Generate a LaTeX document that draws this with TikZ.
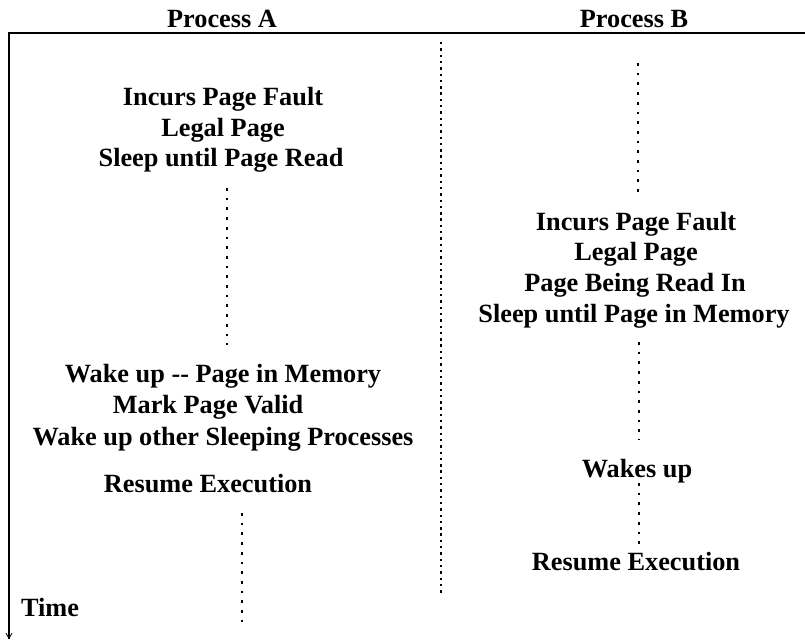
\documentclass[tikz,border=0pt]{standalone}
\usepackage{fontspec}
\setmainfont{Liberation Serif}
\usetikzlibrary{arrows.meta}
\begin{document}
\begin{tikzpicture}[x=1pt,y=-1pt,
  lbl/.style={anchor=base,inner sep=0pt,font=\fontsize{26.3}{30}\selectfont\bfseries},
  dots/.style={line width=2.7pt,dash pattern=on 2.7pt off 7pt},
  densedots/.style={line width=2.4pt,dash pattern=on 2.4pt off 3.9pt},
  axis/.style={line width=2.2pt}]
\useasboundingbox (0,0) rectangle (805,641);
% header
\node[lbl] (pa) at (222,27) {Process A};
\node[lbl] (pb) at (634,27) {Process B};
\coordinate (hl) at (9,33);
\coordinate (hr) at (805,33);
\coordinate (vb) at (9,639);
\draw[axis] (hr) -- (hl) -- (vb);
\draw[line width=0.8pt,-{Straight Barb[length=5pt,width=6pt]}] (9,620) -- (vb);
\node[lbl] (time) at (50,616) {Time};
% middle separator
\coordinate (mt) at (441,42);
\coordinate (mb) at (441,594);
\draw[densedots] (mt) -- (mb);
% Process A
\node[lbl] (a1) at (223,105) {Incurs Page Fault};
\node[lbl] (a2) at (223,136) {Legal Page};
\node[lbl] (a3) at (221,166) {Sleep until Page Read};
\coordinate (a3d) at (227,188);
\coordinate (a4u) at (227,345);
\draw[dots] (a3d) -- (a4u);
\node[lbl] (a4) at (223,382) {Wake up -{}- Page in Memory};
\node[lbl] (a5) at (208,413) {Mark Page Valid};
\node[lbl] (a6) at (223,445) {Wake up other Sleeping Processes};
\node[lbl] (a7) at (208,492) {Resume Execution};
\coordinate (a7d) at (242,513);
\coordinate (aend) at (242,625);
\draw[dots] (a7d) -- (aend);
% Process B
\coordinate (bt) at (638,63);
\coordinate (b1u) at (638,192);
\draw[dots] (bt) -- (b1u);
\node[lbl] (b1) at (636,230) {Incurs Page Fault};
\node[lbl] (b2) at (636,260) {Legal Page};
\node[lbl] (b3) at (635,291) {Page Being Read In};
\node[lbl] (b4) at (634,322) {Sleep until Page in Memory};
\coordinate (b4d) at (639,342);
\coordinate (b5u) at (639,440);
\draw[dots] (b4d) -- (b5u);
\node[lbl] (b5) at (637,477) {Wakes up};
\coordinate (b5d) at (639,483);
\coordinate (b6u) at (639,549);
\draw[dots] (b5d) -- (b6u);
\node[lbl] (b6) at (636,570) {Resume Execution};
\end{tikzpicture}
\end{document}
